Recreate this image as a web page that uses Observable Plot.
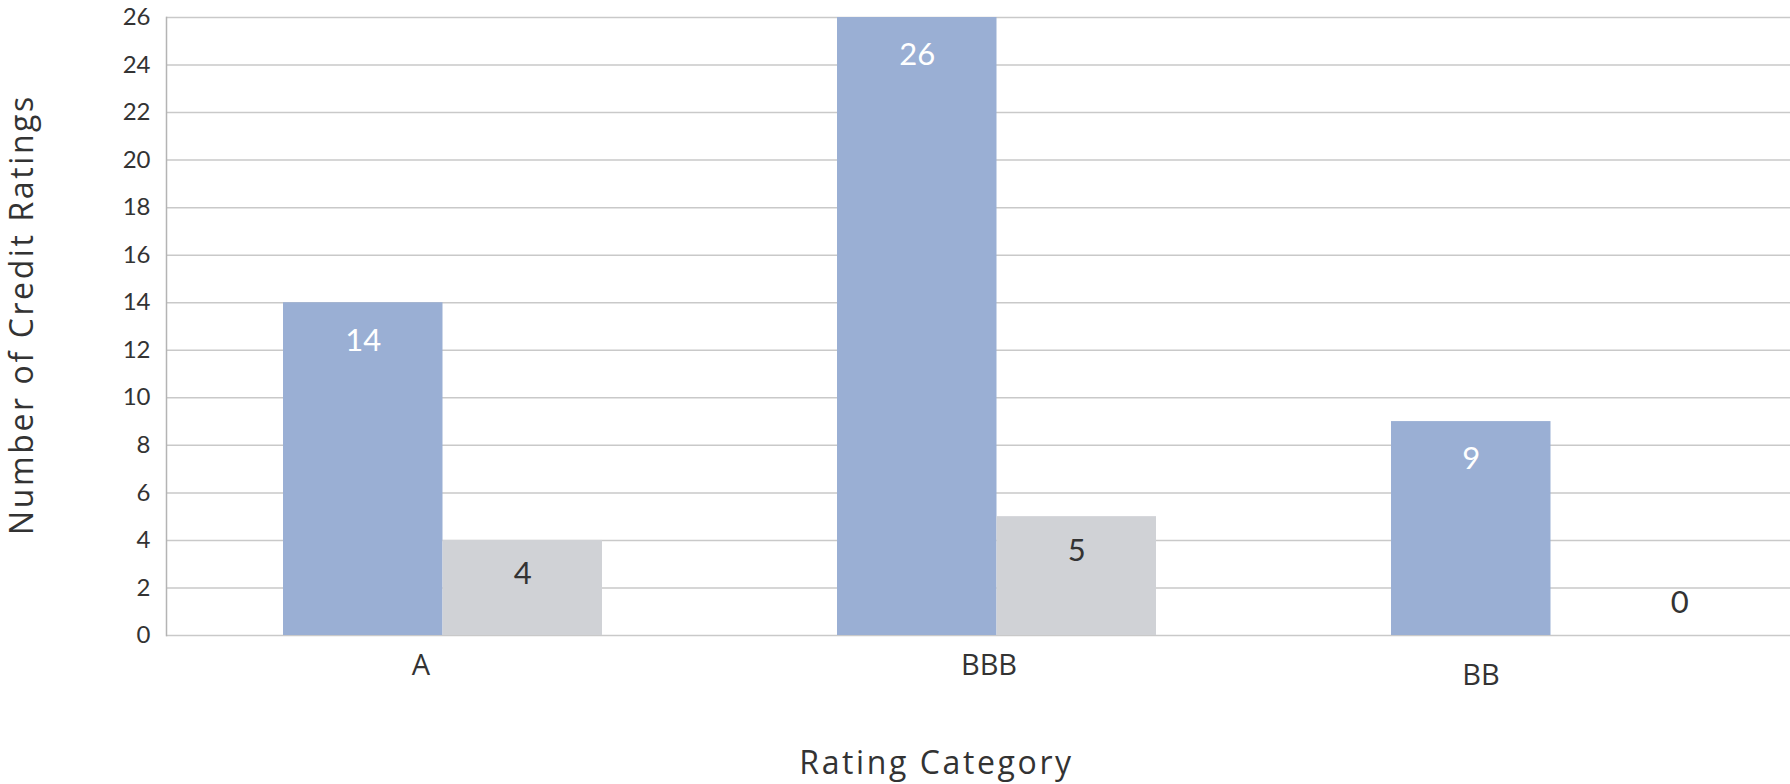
<!DOCTYPE html>
<html>
<head>
<meta charset="utf-8">
<script src="https://cdn.jsdelivr.net/npm/d3@7"></script>
<script src="https://cdn.jsdelivr.net/npm/@observablehq/plot@0.6"></script>
<style>
  html, body { margin: 0; padding: 0; background: white; overflow: hidden; }
  #chart { width: 1828px; }
</style>
</head>
<body>
<div id="chart"></div>
<script>
const categories = ["A", "BBB", "BB"];
const series1 = [14, 26, 9];
const series2 = [4, 5, 0];
const yTicks = [0, 2, 4, 6, 8, 10, 12, 14, 16, 18, 20, 22, 24, 26];
const yTitle = "Number of Credit Ratings";
const xTitle = "Rating Category";

const data1 = categories.map((c, i) => ({category: c, value: series1[i]}));
const data2 = categories.map((c, i) => ({category: c, value: series2[i]}));

const blue = "#9AAFD4";
const grey = "#D0D2D6";
const half = 159.5;
const font = "Lato, 'Noto Sans', sans-serif";
const titleFont = "'Open Sans', 'Noto Sans', sans-serif";
// label nudges (styling only), as in the reference layout
const labelNudge = {A: {dx: -22, dy: 0}, BBB: {dx: -8, dy: 0}, BB: {dx: -70, dy: 10}};

const categoryLabels = categories.map(c =>
  Plot.text([c], {x: d => d, frameAnchor: "bottom", text: d => d, dx: labelNudge[c].dx,
    dy: 30 + labelNudge[c].dy, fontSize: 29, fontFamily: titleFont, fill: "#333", lineAnchor: "middle"})
);

const chart = Plot.plot({
  width: 1828,
  height: 784,
  marginLeft: 166,
  marginRight: 0,
  marginTop: 17,
  marginBottom: 149,
  style: {fontFamily: font, maxWidth: "none", background: "white", color: "#333"},
  x: {domain: categories, paddingInner: 0.424, paddingOuter: 0.212, label: null, axis: null},
  y: {domain: [0, 26], label: null},
  marks: [
    Plot.gridY(yTicks, {stroke: "#c9c9c9", strokeOpacity: 1, strokeWidth: 1.5}),
    Plot.frame({anchor: "left", stroke: "#b4b4b4", strokeWidth: 1.5}),
    Plot.barY(data1, {x: "category", y: "value", fill: blue, insetRight: half}),
    Plot.barY(data2, {x: "category", y: "value", fill: grey, insetLeft: half}),
    Plot.axisY(yTicks, {tickSize: 0, tickPadding: 16, fontSize: 24, fill: "#333", label: null}),
    ...categoryLabels,
    Plot.text(data1.filter(d => d.value > 0), {x: "category", y: "value", text: d => String(d.value), dx: -half / 2, dy: 38, fill: "white", fontSize: 31}),
    Plot.text(data2.filter(d => d.value > 0), {x: "category", y: "value", text: d => String(d.value), dx: half / 2, dy: 34, fill: "#333", fontSize: 31}),
    Plot.text(data2.filter(d => d.value === 0), {x: "category", y: "value", text: d => String(d.value), dx: half / 2 + 49, dy: -32, fill: "#333", fontSize: 31}),
    Plot.text([yTitle], {text: d => d, frameAnchor: "left", dx: -144, dy: -12, rotate: -90, fontSize: 32, fontFamily: titleFont, fill: "#333", textAnchor: "middle", lineAnchor: "middle"}),
    Plot.text([xTitle], {text: d => d, frameAnchor: "bottom", dx: -61, dy: 128, fontSize: 32, fontFamily: titleFont, fill: "#333", lineAnchor: "middle"})
  ]
});
d3.select(chart).selectAll("text")
  .filter(function () { return this.textContent === xTitle || this.textContent === yTitle; })
  .style("letter-spacing", "2.6px");
document.getElementById("chart").appendChild(chart);
</script>
</body>
</html>
